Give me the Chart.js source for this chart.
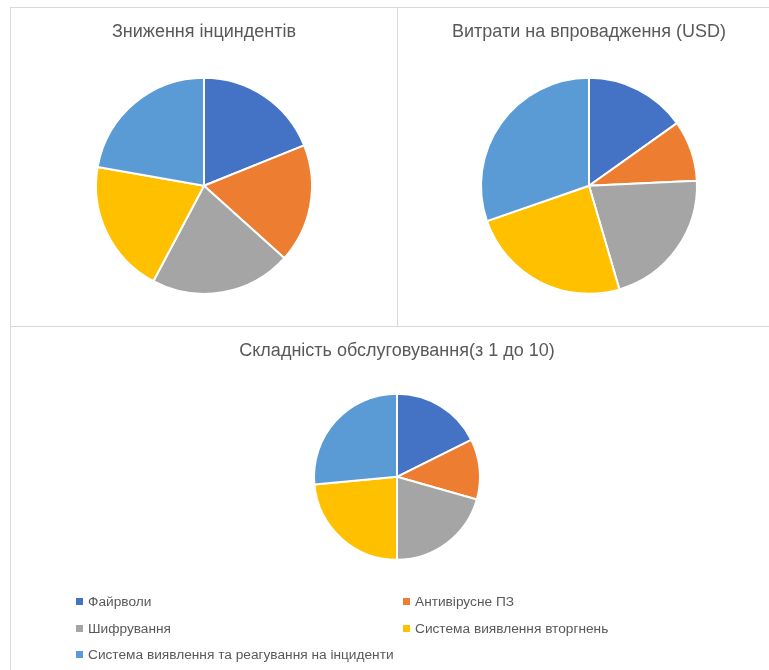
<!DOCTYPE html>
<html>
<head>
<meta charset="utf-8">
<script src="https://cdn.jsdelivr.net/npm/chart.js@4.4.0/dist/chart.umd.min.js"></script>
<style>
  html, body { margin: 0; padding: 0; background: #fff; overflow: hidden; }
  body { width: 769px; height: 670px; position: relative; }
  .panel { position: absolute; box-sizing: border-box; border-color: #d9d9d9; border-style: solid; border-width: 0; }
  #p1 { left: 10px; top: 7px; width: 387px; height: 319px; border-top-width: 1px; border-left-width: 1px; }
  #p2 { left: 397px; top: 7px; width: 387px; height: 319px; border-top-width: 1px; border-left-width: 1px; }
  #p3 { left: 10px; top: 326px; width: 774px; height: 344px; border-top-width: 1px; border-left-width: 1px; }
  .panel canvas { position: absolute; left: 0; top: 0; }
  #legend { position: absolute; left: 66px; top: 594px; width: 680px; font-family: "Liberation Sans", Arial, sans-serif; font-size: 13.7px; color: #595959; }
  #legend .item { position: absolute; white-space: nowrap; line-height: 16px; }
  #legend .box { display: inline-block; width: 7px; height: 7px; margin-right: 5px; vertical-align: 1px; }
</style>
</head>
<body>
<div class="panel" id="p1"><canvas id="incidents"></canvas></div>
<div class="panel" id="p2"><canvas id="costs"></canvas></div>
<div class="panel" id="p3"><canvas id="complexity"></canvas></div>
<div id="legend"></div>

<script>
  // categories and per-chart values
  const tools = ["Файрволи", "Антивірусне ПЗ", "Шифрування", "Система виявлення вторгнень", "Система виявлення та реагування на інциденти"];
  const incidentReduction = [85, 80, 95, 90, 100];
  const implementationCost = [5000, 3000, 7000, 8000, 10000];
  const maintenanceComplexity = [6, 4, 7, 8, 9];

  const colors = ["#4472C4", "#ED7D31", "#A5A5A5", "#FFC000", "#5B9BD5"];

  Chart.defaults.font.family = '"Liberation Sans", Arial, sans-serif';
  Chart.defaults.color = '#595959';

  function makePie(id, w, h, titleText, values, radius, pad) {
    const canvas = document.getElementById(id);
    canvas.style.width = w + 'px';
    canvas.style.height = h + 'px';
    canvas.width = w;
    canvas.height = h;
    return new Chart(canvas, {
      type: 'pie',
      data: {
        labels: tools,
        datasets: [{
          data: values,
          backgroundColor: colors,
          borderColor: '#ffffff',
          borderWidth: 2
        }]
      },
      options: {
        responsive: false,
        animation: false,
        radius: radius,
        layout: { padding: { left: pad.left, right: pad.right, top: 0, bottom: pad.bottom } },
        plugins: {
          legend: { display: false },
          tooltip: { enabled: false },
          title: {
            display: true,
            text: titleText,
            color: '#595959',
            font: { size: 18, weight: 'normal' },
            padding: { top: 13, bottom: 10 }
          }
        }
      }
    });
  }

  makePie('incidents', 387, 319, 'Зниження інциндентів', incidentReduction, 108,
    { left: 0, right: 1, bottom: 8 });
  makePie('costs', 387, 319, 'Витрати на впровадження (USD)', implementationCost, 108,
    { left: 0, right: 5, bottom: 8 });
  const bottomChart = makePie('complexity', 774, 344, 'Складність обслуговування(з 1 до 10)', maintenanceComplexity, 83,
    { left: 0, right: 2, bottom: 89 });

  // legend laid out in two columns under the bottom pie
  const legend = document.getElementById('legend');
  const items = bottomChart.options.plugins.legend.labels.generateLabels(bottomChart);
  items.forEach((it, i) => {
    const div = document.createElement('div');
    div.className = 'item';
    div.style.left = (i % 2 === 0 ? 10 : 337) + 'px';
    div.style.top = (Math.floor(i / 2) * 26.5) + 'px';
    div.innerHTML = `<span class="box" style="background:${it.fillStyle}"></span>${it.text}`;
    legend.appendChild(div);
  });
</script>
</body>
</html>
